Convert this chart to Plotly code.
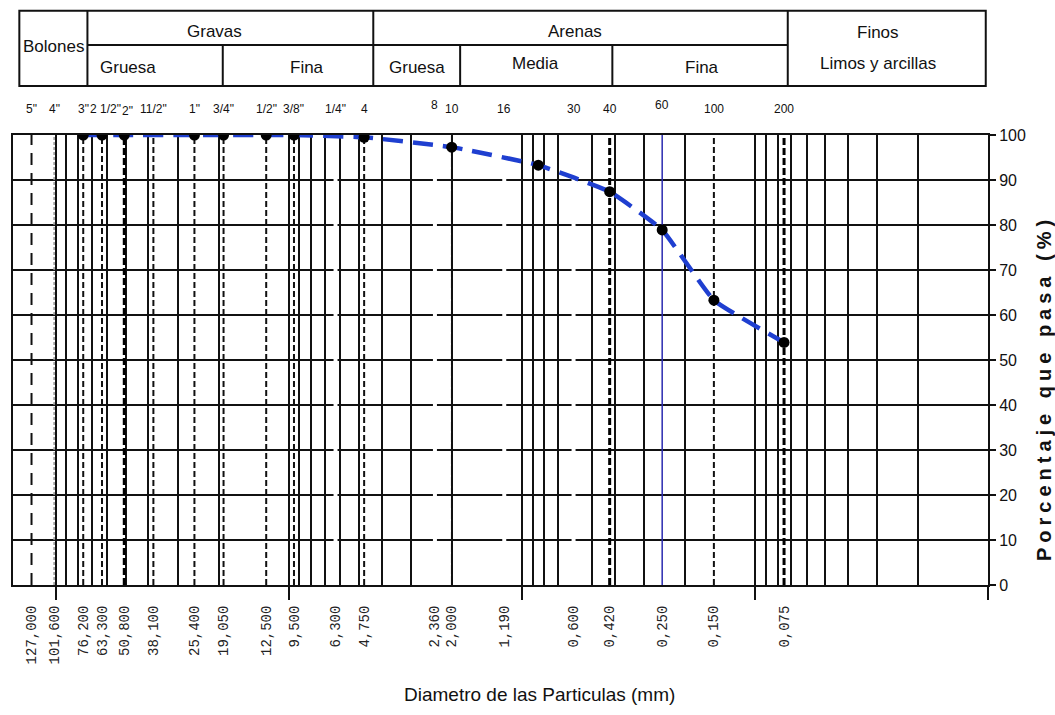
import math
import plotly.graph_objects as go

# --- sieve series (mm), names and axis labels ---
sieve_mm = [127, 101.6, 76.2, 63.3, 50.8, 38.1, 25.4, 19.05, 12.5, 9.5,
            6.3, 4.75, 2.36, 2.0, 1.19, 0.6, 0.42, 0.25, 0.15, 0.075]
sieve_names = ['5"', '4"', '3"', '2 1/2"', '2"', '11/2"', '1"', '3/4"', '1/2"', '3/8"',
               '1/4"', '4', '8', '10', '16', '30', '40', '60', '100', '200']
sieve_labels = ['127,000', '101,600', '76,200', '63,300', '50,800', '38,100', '25,400',
                '19,050', '12,500', '9,500', '6,300', '4,750', '2,360', '2,000', '1,190',
                '0,600', '0,420', '0,250', '0,150', '0,075']
sieve_style = ['long', 'fine', 'dash', 'dash', 'heavy', 'dash', 'dash', 'dash', 'dash', 'dash',
               'white', 'dash', 'white', 'thin', 'white', 'white', 'heavy', 'blue', 'dash', 'heavy']

# --- grain size curve ---
diam_mm = [76.2, 63.3, 50.8, 25.4, 19.05, 12.5, 9.5, 4.75, 2.0, 0.85, 0.42, 0.25, 0.15, 0.075]
passing = [100, 100, 100, 100, 100, 100, 100, 99.5, 97.3, 93.3, 87.4, 78.9, 63.3, 53.9]

# --- log graph paper ---
decades = [100, 10, 1, 0.1, 0.01]
grid_mm = [m * 10.0 ** k for k in (-2, -1, 0, 1) for m in range(2, 10)]
x_max_mm, x_min_mm = 152.5, 0.01
pct_ticks = list(range(0, 101, 10))

# --- soil class header (boundaries in mm) ---
class_bounds = [73.1, 19.2, 4.34, 1.84, 0.409, 0.0723]

SANS = "Liberation Sans, Arial, sans-serif"
MONO = "Liberation Mono, DejaVu Sans Mono, monospace"
INK = '#111'

xrange = [math.log10(x_max_mm), math.log10(x_min_mm)]

fig = go.Figure()

styles = {
    'long':  dict(color=INK, width=2, dash='12px,8px'),
    'fine':  dict(color='#9a9a9a', width=1.5, dash='3px,2px'),
    'dash':  dict(color=INK, width=2, dash='6px,3px'),
    'heavy': dict(color='#000', width=3, dash='7px,3px'),
    'thin':  dict(color=INK, width=1.5, dash='9px,2px'),
    'white': dict(color='#ffffff', width=4),
    'blue':  dict(color='#2b2bb0', width=1.5),
}
shapes = []
for d, s in zip(sieve_mm, sieve_style):
    shapes.append(dict(type='line', xref='x', yref='y', x0=d, x1=d, y0=0, y1=100,
                       line=styles[s], layer='between'))

# header table
hdr_top, hdr_mid, hdr_bot = 1.2762, 1.2, 1.1089
box_l, box_r = 0.0065, 0.9977
shapes.append(dict(type='rect', xref='paper', yref='paper', x0=box_l, x1=box_r,
                   y0=hdr_bot, y1=hdr_top, line=dict(color=INK, width=2)))
shapes.append(dict(type='line', xref='x', yref='paper', x0=class_bounds[0], x1=class_bounds[-1],
                   y0=hdr_mid, y1=hdr_mid, line=dict(color=INK, width=2)))
for i, b in enumerate(class_bounds):
    full = i in (0, 2, 5)
    shapes.append(dict(type='line', xref='x', yref='paper', x0=b, x1=b,
                       y0=hdr_bot, y1=hdr_top if full else hdr_mid,
                       line=dict(color=INK, width=2)))

fig.add_trace(go.Scatter(
    x=diam_mm, y=passing, mode='lines+markers',
    line=dict(color='#1f3fd0', width=4.5, dash='20px,10px', shape='spline', smoothing=0.35),
    marker=dict(color='#000', size=11, symbol='circle'),
    showlegend=False, hoverinfo='x+y'))

# secondary axis carrying the paper grid and decade ticks
fig.add_trace(go.Scatter(x=[1], y=[None], xaxis='x2', showlegend=False, hoverinfo='skip'))

# small label nudges (px) where sieve names crowd each other
nudge = {'2 1/2"': (3, 0), '2"': (3, -2), '8': (0, 4), '60': (0, 4)}
annotations = []
for d, n in zip(sieve_mm, sieve_names):
    dx, dy = nudge.get(n, (0, 0))
    annotations.append(dict(x=math.log10(d), y=1, xref='x', yref='paper',
                            xanchor='center', yanchor='bottom',
                            xshift=dx, yshift=17 + dy, text=n, showarrow=False,
                            font=dict(family=SANS, size=12, color=INK)))

hdr_text = [
    ('Bolones', 0.0413, 1.1967), ('Gravas', 0.2062, 1.2289), ('Gruesa', 0.1176, 1.1511),
    ('Fina', 0.3015, 1.1511), ('Arenas', 0.5764, 1.2289), ('Gruesa', 0.414, 1.1511),
    ('Media', 0.5354, 1.16), ('Fina', 0.7064, 1.1511), ('Finos', 0.8872, 1.2267),
    ('Limos y arcillas', 0.8872, 1.16),
]
for t, px, py in hdr_text:
    annotations.append(dict(x=px, y=py, xref='paper', yref='paper', text=t,
                            xanchor='center', yanchor='middle', showarrow=False,
                            font=dict(family=SANS, size=17, color=INK)))

annotations.append(dict(x=0.5395, y=-0.2444, xref='paper', yref='paper', showarrow=False,
                        xanchor='center', yanchor='middle',
                        text='Diametro de las Particulas (mm)',
                        font=dict(family=SANS, size=19, color=INK)))
annotations.append(dict(x=1.0575, y=0.4378, xref='paper', yref='paper', showarrow=False,
                        xanchor='center', yanchor='middle', textangle=-90,
                        text='<b><span style="letter-spacing:5px">Porcentaje que pasa (%)</span></b>',
                        font=dict(family=SANS, size=20, color=INK)))

fig.update_layout(
    width=1055, height=715,
    margin=dict(l=13, r=67, t=135, b=130),
    paper_bgcolor='white', plot_bgcolor='white',
    shapes=shapes, annotations=annotations,
    xaxis=dict(type='log', range=xrange,
               tickmode='array', tickvals=sieve_mm, ticktext=sieve_labels,
               tickangle=-90, ticks='', showgrid=False, ticklabelstandoff=13,
               tickfont=dict(family=MONO, size=14, color='#222'),
               showline=True, linecolor=INK, linewidth=2, mirror=True, zeroline=False),
    xaxis2=dict(type='log', range=xrange, overlaying='x', anchor='y', side='bottom',
                tickmode='array', tickvals=decades, ticks='outside', ticklen=14,
                tickwidth=1.5, tickcolor=INK, showticklabels=False,
                showgrid=True, gridcolor=INK, gridwidth=1.5,
                minor=dict(tickvals=grid_mm, showgrid=True, gridcolor=INK,
                           gridwidth=1.5, ticks=''),
                showline=False, zeroline=False),
    yaxis=dict(range=[0, 100], side='right', tickmode='array', tickvals=pct_ticks,
               ticks='outside', ticklen=6, tickwidth=2, tickcolor=INK,
               tickfont=dict(family=SANS, size=16, color=INK),
               showgrid=True, gridcolor=INK, gridwidth=2,
               showline=True, linecolor=INK, linewidth=2, mirror=True, zeroline=False),
)

fig.write_html("out.html")
